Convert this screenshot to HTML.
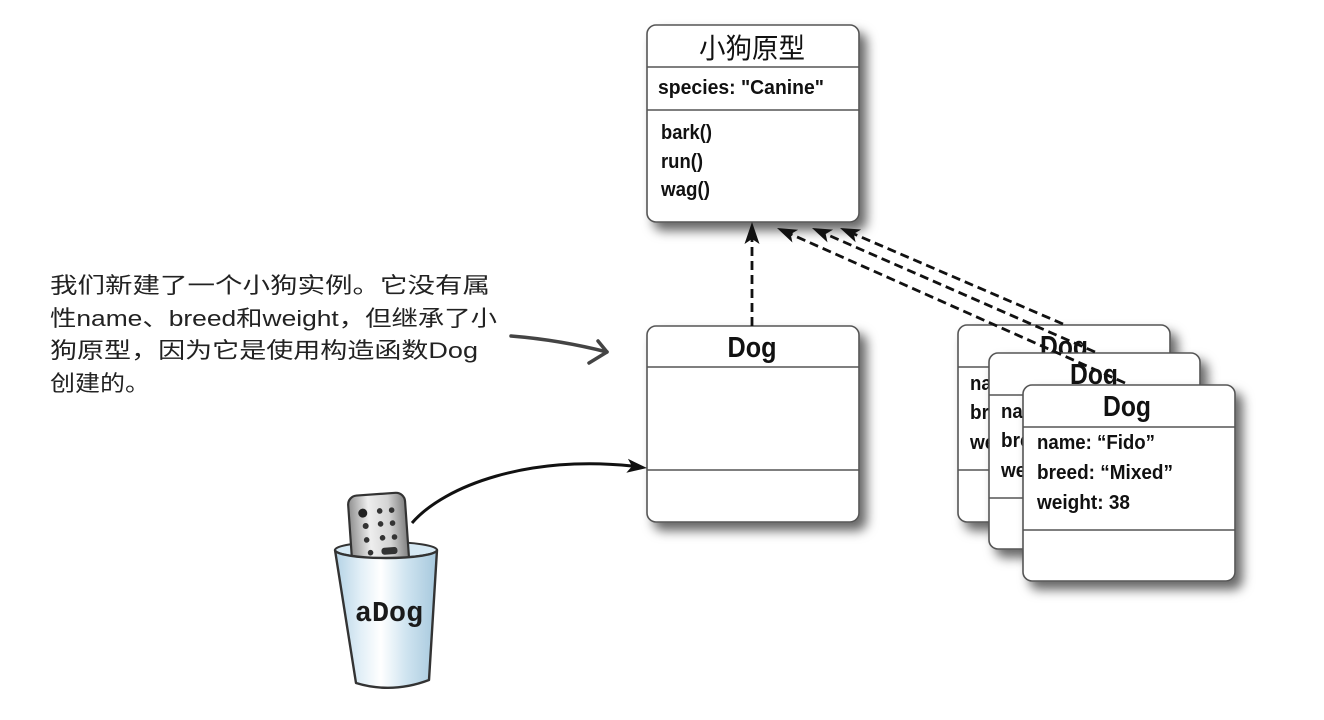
<!DOCTYPE html>
<html><head><meta charset="utf-8"><style>
html,body{margin:0;padding:0;background:#fff;}
svg{display:block;}
.bx{fill:#fff;stroke:#555;stroke-width:1.6;}
.ln{stroke:#555;stroke-width:1.4;}
.t{font-family:"Liberation Sans",Arial,sans-serif;font-weight:bold;fill:#111;}
.ann{font-family:"Liberation Sans","Noto Sans CJK SC",sans-serif;fill:#222;font-size:22px;font-weight:normal;}
</style></head><body>
<svg width="1324" height="720" viewBox="0 0 1324 720" xmlns="http://www.w3.org/2000/svg">
<defs>
<filter id="sh" x="-15%" y="-15%" width="140%" height="140%">
<feDropShadow dx="7" dy="8" stdDeviation="5.5" flood-color="#000" flood-opacity="0.6"/>
</filter>
<linearGradient id="cupg" x1="0" y1="0" x2="1" y2="0">
<stop offset="0" stop-color="#b3d2e5"/>
<stop offset="0.25" stop-color="#e2eff7"/>
<stop offset="0.45" stop-color="#ffffff"/>
<stop offset="0.7" stop-color="#cfe4f0"/>
<stop offset="1" stop-color="#a6c8dd"/>
</linearGradient>
<linearGradient id="remg" x1="0" y1="0" x2="1" y2="0">
<stop offset="0" stop-color="#8f8f8f"/>
<stop offset="0.35" stop-color="#eeeeee"/>
<stop offset="0.7" stop-color="#d4d4d4"/>
<stop offset="1" stop-color="#808080"/>
</linearGradient>
</defs>

<!-- Top prototype box -->
<g filter="url(#sh)"><rect class="bx" x="647" y="25" width="212" height="197" rx="9"/></g>
<line class="ln" x1="647" y1="67" x2="859" y2="67"/>
<line class="ln" x1="647" y1="110" x2="859" y2="110"/>
<text x="752" y="58" text-anchor="middle" font-family="'Noto Sans CJK SC',sans-serif" font-size="28" fill="#111" textLength="106" lengthAdjust="spacingAndGlyphs">小狗原型</text>
<text class="t" x="658" y="94" font-size="20" textLength="166" lengthAdjust="spacingAndGlyphs">species: "Canine"</text>
<text class="t" x="661" y="139" font-size="20" textLength="51" lengthAdjust="spacingAndGlyphs">bark()</text>
<text class="t" x="661" y="168" font-size="20" textLength="42" lengthAdjust="spacingAndGlyphs">run()</text>
<text class="t" x="661" y="196" font-size="20" textLength="49" lengthAdjust="spacingAndGlyphs">wag()</text>

<!-- Middle Dog box -->
<g filter="url(#sh)"><rect class="bx" x="647" y="326" width="212" height="196" rx="9"/></g>
<line class="ln" x1="647" y1="367" x2="859" y2="367"/>
<line class="ln" x1="647" y1="470" x2="859" y2="470"/>
<text class="t" x="752" y="357" text-anchor="middle" font-size="29" textLength="49" lengthAdjust="spacingAndGlyphs">Dog</text>

<!-- Back box A -->
<g filter="url(#sh)"><rect class="bx" x="958" y="325" width="212" height="197" rx="9"/></g>
<line class="ln" x1="958" y1="367" x2="1170" y2="367"/>
<line class="ln" x1="958" y1="470" x2="1170" y2="470"/>
<text class="t" x="1064" y="356" text-anchor="middle" font-size="29" textLength="48" lengthAdjust="spacingAndGlyphs">Dog</text>
<text class="t" x="970" y="390" font-size="20" textLength="118" lengthAdjust="spacingAndGlyphs">name: “Fido”</text>
<text class="t" x="970" y="419" font-size="20" textLength="136" lengthAdjust="spacingAndGlyphs">breed: “Mixed”</text>
<text class="t" x="970" y="449" font-size="20" textLength="93" lengthAdjust="spacingAndGlyphs">weight: 38</text>

<!-- Back box B -->
<g filter="url(#sh)"><rect class="bx" x="989" y="353" width="211" height="196" rx="9"/></g>
<line class="ln" x1="989" y1="395" x2="1200" y2="395"/>
<line class="ln" x1="989" y1="498" x2="1200" y2="498"/>
<text class="t" x="1094" y="384" text-anchor="middle" font-size="29" textLength="48" lengthAdjust="spacingAndGlyphs">Dog</text>
<text class="t" x="1001" y="418" font-size="20" textLength="118" lengthAdjust="spacingAndGlyphs">name: “Fido”</text>
<text class="t" x="1001" y="447" font-size="20" textLength="136" lengthAdjust="spacingAndGlyphs">breed: “Mixed”</text>
<text class="t" x="1001" y="477" font-size="20" textLength="93" lengthAdjust="spacingAndGlyphs">weight: 38</text>

<!-- Front box C -->
<g filter="url(#sh)"><rect class="bx" x="1023" y="385" width="212" height="196" rx="9"/></g>
<line class="ln" x1="1023" y1="427" x2="1235" y2="427"/>
<line class="ln" x1="1023" y1="530" x2="1235" y2="530"/>
<text class="t" x="1127" y="416" text-anchor="middle" font-size="29" textLength="48" lengthAdjust="spacingAndGlyphs">Dog</text>
<text class="t" x="1037" y="449" font-size="20" textLength="118" lengthAdjust="spacingAndGlyphs">name: “Fido”</text>
<text class="t" x="1037" y="479" font-size="20" textLength="136" lengthAdjust="spacingAndGlyphs">breed: “Mixed”</text>
<text class="t" x="1037" y="509" font-size="20" textLength="93" lengthAdjust="spacingAndGlyphs">weight: 38</text>

<!-- Dashed arrows -->
<g stroke="#111" stroke-width="2.8" stroke-dasharray="9 5" fill="none">
<path d="M752,326 L752,238"/>
<path d="M1125,383 L790.7,234.1"/>
<path d="M1095,352 L825.7,234.0"/>
<path d="M1063,324 L853.8,233.9"/>
</g>
<g fill="#111">
<polygon points="752,222 759.5,244 752,239 744.5,244"/>
<polygon points="777,228 798.1,229.7 790.7,234.1 792.4,242.5"/>
<polygon points="812,228 833.1,229.6 825.7,234.0 827.5,242.4"/>
<polygon points="840,228 861.1,229.5 853.8,233.9 855.6,242.3"/>
</g>

<!-- Annotation text -->
<text class="ann" x="50" y="293" textLength="440" lengthAdjust="spacingAndGlyphs">我们新建了一个小狗实例。它没有属</text>
<text class="ann" x="50" y="326" textLength="447" lengthAdjust="spacingAndGlyphs">性name、breed和weight，但继承了小</text>
<text class="ann" x="50" y="358" textLength="428" lengthAdjust="spacingAndGlyphs">狗原型，因为它是使用构造函数Dog</text>
<text class="ann" x="50" y="391" textLength="100" lengthAdjust="spacingAndGlyphs">创建的。</text>

<!-- Annotation arrow -->
<g stroke="#444" stroke-width="3.5" fill="none" stroke-linecap="round" stroke-linejoin="round">
<path d="M511,336 Q560,340 607,352"/>
<path d="M598,341 L607,352 L589,363"/>
</g>

<!-- Cup: back rim -->
<ellipse cx="386" cy="550" rx="51" ry="8" fill="#d6e9f4" stroke="#333" stroke-width="2"/>
<!-- Remote -->
<g transform="rotate(-4 380 530)">
<rect x="350" y="494" width="57" height="84" rx="9" fill="url(#remg)" stroke="#333" stroke-width="2.2"/>
<circle cx="364" cy="512" r="4.5" fill="#222"/>
<circle cx="381" cy="511" r="2.8" fill="#333"/>
<circle cx="393" cy="511" r="2.8" fill="#333"/>
<circle cx="366" cy="525" r="3" fill="#333"/>
<circle cx="381" cy="524" r="2.8" fill="#333"/>
<circle cx="393" cy="524" r="2.8" fill="#333"/>
<circle cx="366" cy="539" r="2.8" fill="#333"/>
<circle cx="382" cy="538" r="2.8" fill="#333"/>
<circle cx="394" cy="538" r="2.8" fill="#333"/>
<circle cx="369" cy="552" r="2.8" fill="#333"/>
<rect x="380" y="548" width="16" height="7" rx="3" fill="#333"/>
</g>
<!-- Cup body front -->
<path d="M335,550 A51,8 0 0 0 437,550 L429,680 Q392,694 356,683 Z" fill="url(#cupg)" stroke="#333" stroke-width="2.4" stroke-linejoin="round"/>
<text x="389" y="621" text-anchor="middle" font-family="'Liberation Mono',monospace" font-size="29" font-weight="bold" fill="#1a1a1a" textLength="68" lengthAdjust="spacingAndGlyphs">aDog</text>

<!-- Solid curved arrow -->
<path d="M412,523 C445,485 530,455 632,466" stroke="#111" stroke-width="3" fill="none"/>
<polygon points="647,468 626.3,472.8 632,466.3 627.9,458.8" fill="#111"/>
</svg>
</body></html>
